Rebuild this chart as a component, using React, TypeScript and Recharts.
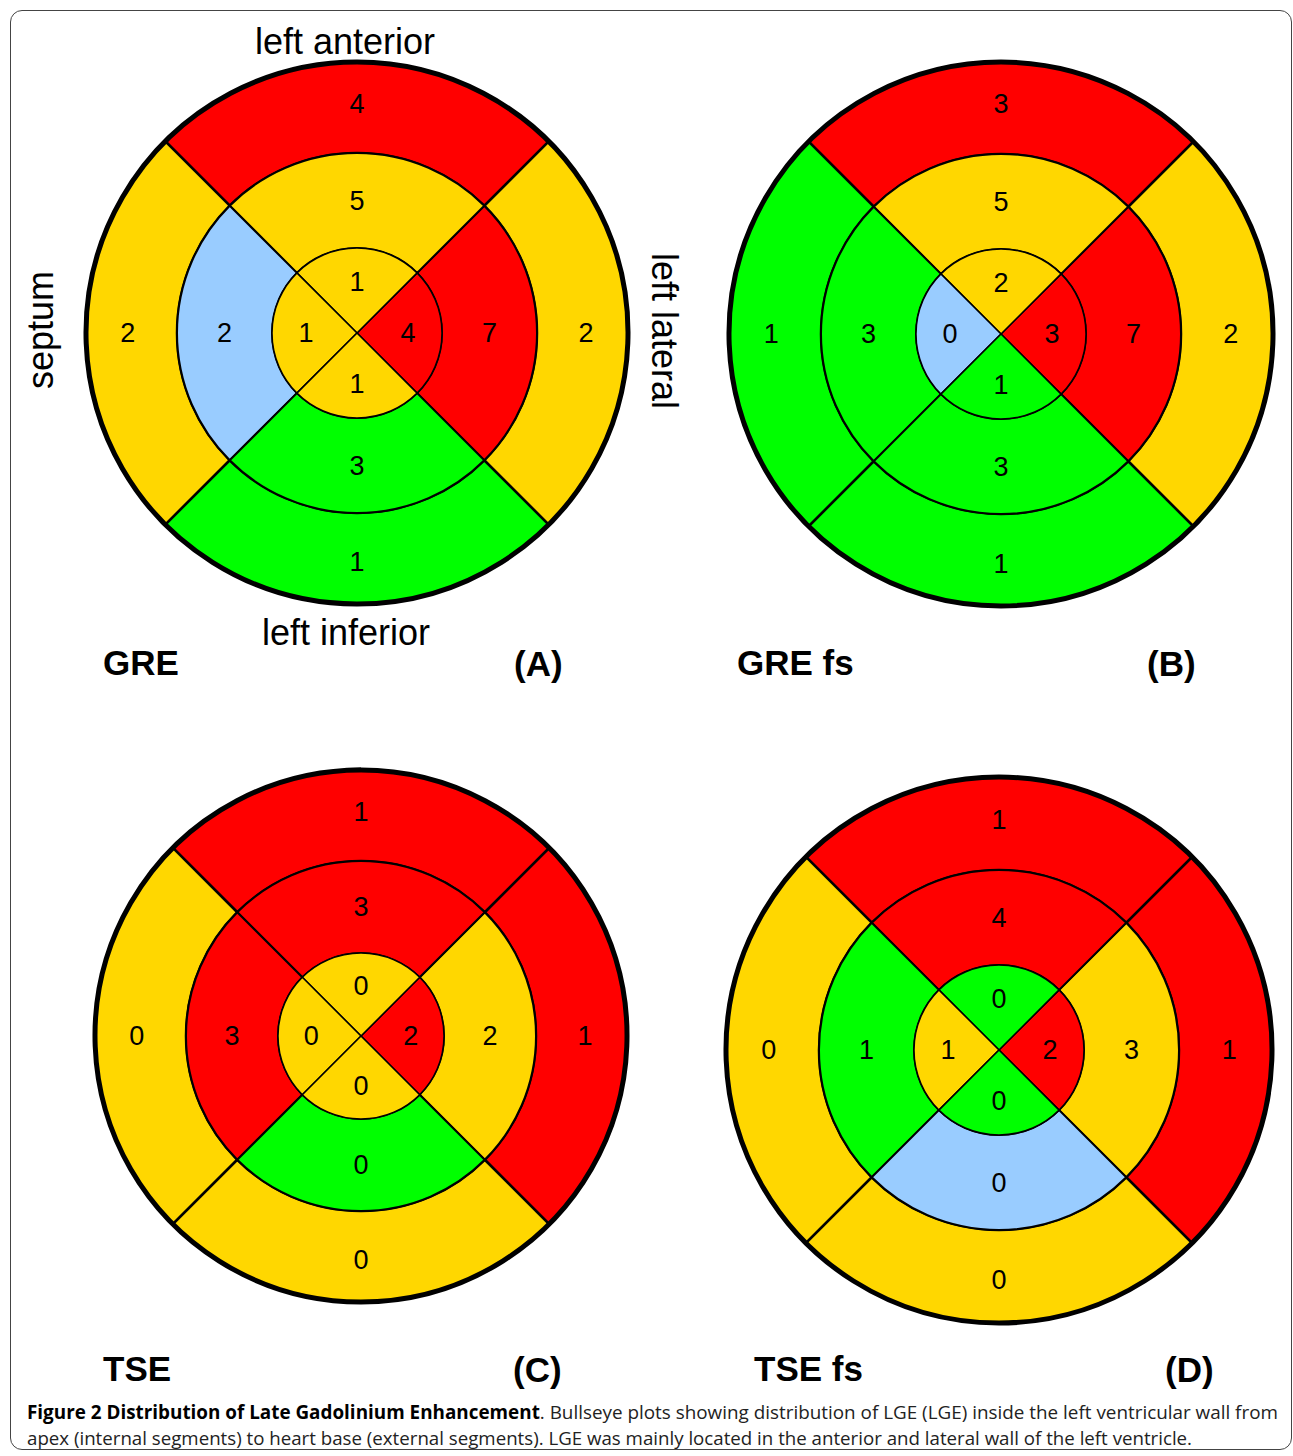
import { PieChart, Pie, Cell } from 'recharts';

const R = '#FF0000';
const Y = '#FFD700';
const G = '#00FF00';
const B = '#99CCFF';

// segment order: lateral (right), anterior (top), septal (left), inferior (bottom)
const greOuter = [2, 4, 2, 1];
const greOuterColors = [Y, R, Y, G];
const greMiddle = [7, 5, 2, 3];
const greMiddleColors = [R, Y, B, G];
const greInner = [4, 1, 1, 1];
const greInnerColors = [R, Y, Y, Y];

const grefsOuter = [2, 3, 1, 1];
const grefsOuterColors = [Y, R, G, G];
const grefsMiddle = [7, 5, 3, 3];
const grefsMiddleColors = [R, Y, G, G];
const grefsInner = [3, 2, 0, 1];
const grefsInnerColors = [R, Y, B, G];

const tseOuter = [1, 1, 0, 0];
const tseOuterColors = [R, R, Y, Y];
const tseMiddle = [2, 3, 3, 0];
const tseMiddleColors = [Y, R, R, G];
const tseInner = [2, 0, 0, 0];
const tseInnerColors = [R, Y, Y, Y];

const tsefsOuter = [1, 1, 0, 0];
const tsefsOuterColors = [R, R, Y, Y];
const tsefsMiddle = [3, 4, 1, 0];
const tsefsMiddleColors = [Y, R, G, B];
const tsefsInner = [2, 0, 1, 0];
const tsefsInnerColors = [R, G, Y, G];

const toRing = (counts: number[], colors: string[]) =>
  counts.map((c, i) => ({ size: 1, count: c, color: colors[i] }));

const plots = [
  { id: 'A', cx: 357, cy: 333, radii: [85, 180, 271], rings: [toRing(greInner, greInnerColors), toRing(greMiddle, greMiddleColors), toRing(greOuter, greOuterColors)] },
  { id: 'B', cx: 1001, cy: 334, radii: [85, 180, 272], rings: [toRing(grefsInner, grefsInnerColors), toRing(grefsMiddle, grefsMiddleColors), toRing(grefsOuter, grefsOuterColors)] },
  { id: 'C', cx: 361, cy: 1036, radii: [83, 175, 266], rings: [toRing(tseInner, tseInnerColors), toRing(tseMiddle, tseMiddleColors), toRing(tseOuter, tseOuterColors)] },
  { id: 'D', cx: 999, cy: 1050, radii: [85, 180, 273], rings: [toRing(tsefsInner, tsefsInnerColors), toRing(tsefsMiddle, tsefsMiddleColors), toRing(tsefsOuter, tsefsOuterColors)] },
];

const RADIAN = Math.PI / 180;
const FONT = '"Liberation Sans", Arial, sans-serif';

const renderLabel = (props: any) => {
  const { cx, cy, midAngle, innerRadius, outerRadius, payload } = props;
  let r;
  if (innerRadius === 0) r = outerRadius * 0.6;
  else if (innerRadius > 150) r = innerRadius + (outerRadius - innerRadius) * 0.54;
  else r = (innerRadius + outerRadius) / 2;
  const x = cx + r * Math.cos(-midAngle * RADIAN);
  const y = cy + r * Math.sin(-midAngle * RADIAN);
  return (
    <text x={x} y={y} textAnchor="middle" dominantBaseline="central" fontSize={27} fontFamily={FONT} fill="#000">
      {payload.count}
    </text>
  );
};

const strokes = [1.5, 2, 2.5];

export default function App() {
  return (
    <div style={{ position: 'absolute', left: 0, top: 0, width: 1293, height: 1456, background: '#fff' }}>
      <div
        style={{
          position: 'absolute',
          left: 10,
          top: 10,
          width: 1282,
          height: 1440,
          border: '1.5px solid #444',
          borderRadius: 12,
          boxSizing: 'border-box',
        }}
      />
      <div style={{ position: 'absolute', left: 0, top: 0 }}>
        <PieChart width={1293} height={1456} margin={{ top: 0, right: 0, bottom: 0, left: 0 }}>
          {plots.flatMap((p) => {
            const els = [2, 1, 0].map((ri) => (
              <Pie
                key={`${p.id}-${ri}`}
                data={p.rings[ri]}
                dataKey="size"
                cx={p.cx}
                cy={p.cy}
                innerRadius={ri === 0 ? 0 : p.radii[ri - 1]}
                outerRadius={p.radii[ri]}
                startAngle={-45}
                endAngle={315}
                stroke="#000"
                strokeWidth={strokes[ri]}
                label={renderLabel}
                labelLine={false}
                isAnimationActive={false}
              >
                {p.rings[ri].map((d, i) => (
                  <Cell key={i} fill={d.color} stroke="#000" strokeWidth={strokes[ri]} />
                ))}
              </Pie>
            ));
            els.push(
              <Pie
                key={`${p.id}-outline`}
                data={[{ size: 1 }]}
                dataKey="size"
                cx={p.cx}
                cy={p.cy}
                innerRadius={p.radii[2]}
                outerRadius={p.radii[2]}
                startAngle={90}
                endAngle={450}
                fill="none"
                stroke="#000"
                strokeWidth={5}
                isAnimationActive={false}
              />
            );
            return els;
          })}
        </PieChart>
      </div>
      <svg width={1293} height={1456} style={{ position: 'absolute', left: 0, top: 0, pointerEvents: 'none' }}>
        <g fontFamily={FONT} fill="#000">
          <text x={345} y={54} fontSize={36} textAnchor="middle">left anterior</text>
          <text x={346} y={645} fontSize={36} textAnchor="middle">left inferior</text>
          <text transform="translate(53,330) rotate(-90)" fontSize={36} textAnchor="middle">septum</text>
          <text transform="translate(652,331) rotate(90)" fontSize={36} textAnchor="middle">left lateral</text>
          <g fontSize={35} fontWeight="bold">
            <text x={103} y={675}>GRE</text>
            <text x={514} y={676}>(A)</text>
            <text x={737} y={675}>GRE fs</text>
            <text x={1147} y={676}>(B)</text>
            <text x={103} y={1381}>TSE</text>
            <text x={513} y={1382}>(C)</text>
            <text x={754} y={1381}>TSE fs</text>
            <text x={1165} y={1382}>(D)</text>
          </g>
        </g>
        <g fontFamily='"Open Sans", "Noto Sans", sans-serif' fontSize={19} fill="#222">
          <text x={27} y={1419} textLength={1251} lengthAdjust="spacingAndGlyphs">
            <tspan fontWeight="bold" fill="#000">Figure 2 Distribution of Late Gadolinium Enhancement</tspan>
            <tspan>. Bullseye plots showing distribution of LGE (LGE) inside the left ventricular wall from</tspan>
          </text>
          <text x={27} y={1445} textLength={1165} lengthAdjust="spacingAndGlyphs">
            apex (internal segments) to heart base (external segments). LGE was mainly located in the anterior and lateral wall of the left ventricle.
          </text>
        </g>
      </svg>
    </div>
  );
}
